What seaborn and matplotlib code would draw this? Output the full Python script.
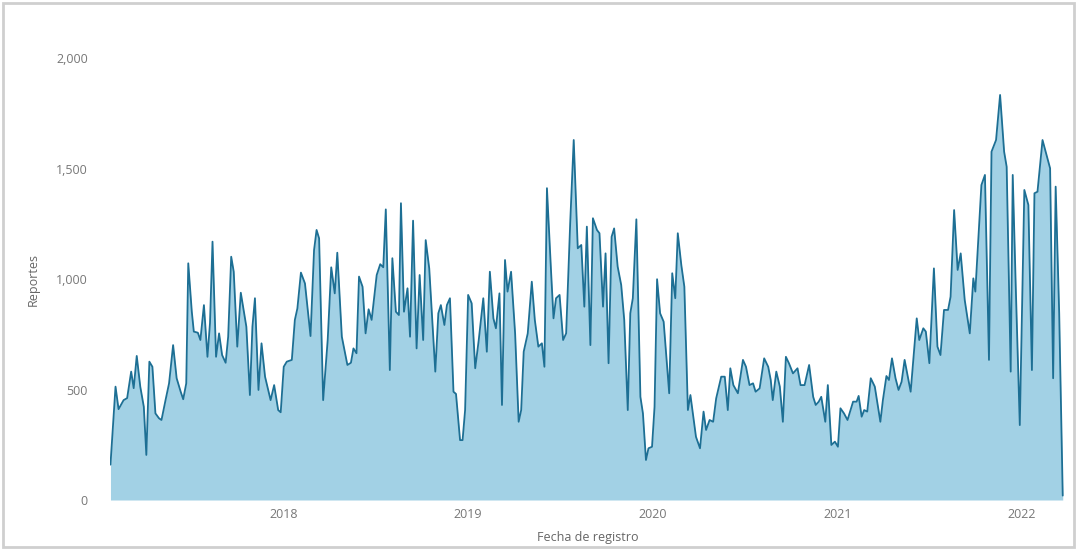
import pandas as pd
import numpy as np
import matplotlib
matplotlib.use("Agg")
import matplotlib.pyplot as plt
import matplotlib.dates as mdates
from matplotlib.ticker import FuncFormatter
import seaborn as sns

# ---------------------------------
# Data
# ---------------------------------
fecha_inicio = "2017-01-23"

# days since fecha_inicio for each vertex of the line
dias = [
    0, 10, 16, 26, 33, 41, 46, 52, 59, 66, 71, 77, 83, 89, 96, 101, 109, 116,
    124, 131, 139, 144, 150, 154, 161, 165, 173, 178, 185, 192, 197, 202, 209,
    215, 221, 228, 233, 239, 244, 251, 258, 263, 269, 276, 281, 286, 293, 299,
    306, 317, 324, 332, 337, 343, 349, 359, 365, 370, 377, 385, 396, 403, 408,
    413, 421, 430, 437, 444, 449, 458, 469, 476, 481, 487, 492, 499, 505, 511,
    517, 527, 534, 540, 545, 553, 558, 565, 571, 575, 581, 588, 593, 599, 606,
    612, 619, 624, 631, 643, 649, 654, 661, 666, 672, 679, 684, 692, 697, 702,
    708, 715, 722, 729, 738, 745, 751, 758, 763, 770, 775, 781, 786, 793, 801,
    808, 813, 818, 826, 834, 840, 847, 854, 859, 864, 872, 877, 882, 889, 896,
    902, 910, 917, 925, 932, 938, 943, 950, 955, 963, 968, 975, 980, 986, 992,
    997, 1004, 1011, 1017, 1024, 1029, 1034, 1041, 1049, 1054, 1060, 1065,
    1072, 1077, 1082, 1088, 1095, 1106, 1112, 1118, 1123, 1130, 1136, 1143,
    1148, 1154, 1159, 1167, 1174, 1179, 1186, 1193, 1199, 1209, 1216, 1222,
    1227, 1233, 1242, 1252, 1258, 1265, 1272, 1277, 1285, 1294, 1302, 1307,
    1311, 1318, 1325, 1331, 1337, 1343, 1351, 1360, 1366, 1374, 1383, 1391,
    1396, 1402, 1407, 1415, 1420, 1427, 1434, 1440, 1445, 1452, 1459, 1465,
    1470, 1477, 1481, 1487, 1492, 1498, 1505, 1513, 1524, 1529, 1536, 1541,
    1547, 1554, 1560, 1566, 1572, 1579, 1584, 1596, 1601, 1609, 1614, 1621,
    1630, 1637, 1643, 1650, 1658, 1663, 1670, 1677, 1683, 1691, 1701, 1708,
    1712, 1724, 1731, 1739, 1744, 1753, 1761, 1769, 1774, 1782, 1786, 1792,
    1800, 1809, 1817, 1824, 1829, 1835, 1845, 1860, 1866, 1871, 1878, 1885,
]

reportes = [
    160, 513, 411, 452, 461, 581, 506, 652, 513, 422, 204, 626, 603, 392, 370,
    362, 452, 528, 701, 551, 490, 456, 528, 1071, 852, 762, 757, 724, 882, 648,
    800, 1169, 648, 754, 656, 621, 739, 1101, 1033, 694, 938, 867, 784, 475,
    784, 913, 498, 709, 558, 452, 520, 407, 397, 603, 626, 634, 815, 867, 1029,
    980, 742, 1131, 1222, 1184, 452, 724, 1053, 935, 1119, 739, 611, 621, 686,
    664, 1011, 965, 754, 863, 815, 1018, 1067, 1053, 1315, 588, 1094, 852, 837,
    1343, 852, 958, 739, 1264, 686, 1018, 724, 1176, 1048, 581, 845, 882, 792,
    882, 913, 490, 480, 271, 271, 407, 928, 890, 596, 724, 913, 671, 1033, 822,
    777, 935, 430, 1086, 943, 1033, 754, 354, 407, 671, 754, 988, 815, 694,
    709, 603, 1411, 1041, 822, 913, 928, 724, 754, 1252, 1629, 1139, 1154, 875,
    1237, 701, 1275, 1222, 1207, 875, 1116, 619, 1191, 1229, 1056, 973, 815,
    407, 845, 913, 1270, 467, 392, 181, 234, 241, 422, 999, 845, 807, 483,
    1026, 913, 1207, 1063, 965, 407, 475, 370, 286, 234, 400, 317, 362, 354,
    460, 558, 558, 407, 596, 520, 483, 634, 603, 520, 528, 490, 505, 641, 603,
    543, 452, 581, 513, 354, 648, 619, 573, 596, 520, 520, 611, 467, 430, 445,
    467, 354, 520, 249, 264, 241, 415, 392, 362, 407, 445, 445, 471, 377, 407,
    400, 551, 513, 354, 452, 561, 543, 641, 551, 498, 535, 634, 551, 490, 822,
    724, 777, 762, 619, 1048, 694, 656, 860, 860, 920, 1312, 1041, 1116, 905,
    754, 1003, 943, 1425, 1471, 634, 1576, 1629, 1833, 1576, 1508, 581, 1471,
    965, 339, 1403, 1335, 588, 1388, 1395, 1629, 1501, 551, 1418, 845, 20,
]

df = pd.DataFrame({
    "Fecha de registro": pd.to_datetime(fecha_inicio) + pd.to_timedelta(dias, unit="D"),
    "Reportes": reportes,
})

anios = [2018, 2019, 2020, 2021, 2022]
y_ticks = [0, 500, 1000, 1500, 2000]

# ---------------------------------
# Plot
# ---------------------------------
sns.set_theme(style="white")
plt.rcParams["font.family"] = ["Open Sans", "DejaVu Sans"]

fig = plt.figure(figsize=(10.77, 5.5), dpi=100)
ax = fig.add_axes([0.1021, 0.0909, 0.887, 0.8036])

linea = "#1d6f94"
relleno = "#a2d1e5"

ax.fill_between(df["Fecha de registro"], df["Reportes"], 0, color=relleno, lw=0)
sns.lineplot(data=df, x="Fecha de registro", y="Reportes", ax=ax, color=linea, linewidth=1.3)

ax.set_ylim(0, 2000)
ax.set_xlim(pd.to_datetime(fecha_inicio) - pd.Timedelta(days=1),
            pd.to_datetime(fecha_inicio) + pd.Timedelta(days=1890))

ax.set_yticks(y_ticks)
ax.yaxis.set_major_formatter(FuncFormatter(lambda v, p: f"{int(v):,}"))
ax.set_xticks([pd.Timestamp(f"{a}-01-01") for a in anios])
ax.xaxis.set_major_formatter(mdates.DateFormatter("%Y"))

ax.tick_params(axis="y", length=0, labelsize=9, colors="#777777", pad=16)
ax.tick_params(axis="x", length=0, labelsize=9, colors="#777777", pad=6)
ax.set_ylabel("Reportes", fontsize=9, color="#666666", labelpad=12)
ax.set_xlabel("Fecha de registro", fontsize=9, color="#666666", labelpad=7)

for s in ax.spines.values():
    s.set_visible(False)

# light frame of the visual
fig.patches.append(plt.Rectangle((0.003, 0.005), 0.994, 0.99, transform=fig.transFigure,
                                 fill=False, edgecolor="#cfcfcf", linewidth=2))

fig.savefig("out.png", dpi=100)
